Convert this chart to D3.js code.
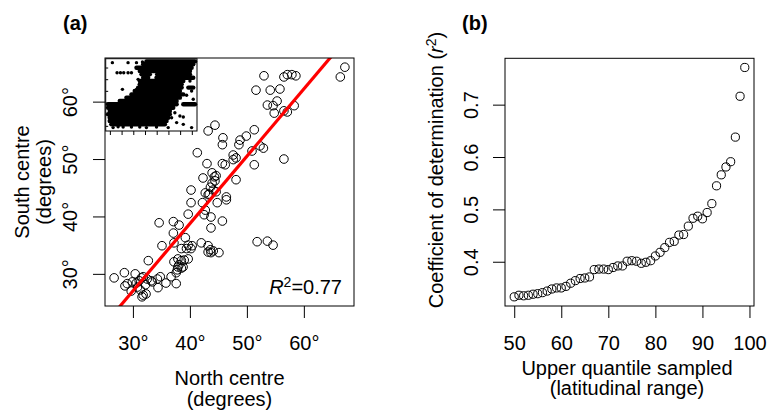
<!DOCTYPE html>
<html><head><meta charset="utf-8">
<script src="https://cdn.jsdelivr.net/npm/d3@7"></script>
<style>
body{margin:0;background:#fff}
svg{display:block}
text{font-family:"Liberation Sans",Arial,Helvetica,sans-serif;fill:#000}
</style>
</head><body>
<svg id="c" width="767" height="416"></svg>
<script>
// ---------- Panel (a): north vs south range centres ----------
const northCentre = [
 67.2,66.4,53.0,56.5,57.1,57.9,58.6,51.6,54.1,55.8,
 55.3,53.6,54.6,58.3,54.8,56.5,57.1,44.4,43.2,51.3,
 49.9,48.8,45.8,45.7,48.6,52.3,52.9,50.9,41.3,47.6,
 48.1,47.6,56.5,43.0,45.7,46.2,51.3,43.9,44.3,42.3,
 48.1,43.9,44.4,43.6,44.1,43.2,44.6,44.6,40.2,42.7,
 43.4,46.4,40.2,42.2,44.8,46.4,42.7,42.5,39.7,43.7,
 45.7,34.6,37.1,38.1,37.1,43.7,39.2,35.1,37.2,38.5,
 39.7,40.4,40.2,39.4,42.0,43.2,43.6,43.2,43.7,44.1,
 45.1,51.8,53.6,54.6,32.7,37.9,38.5,39.0,39.7,37.9,
 37.8,38.1,37.6,38.5,26.7,28.5,30.4,28.6,29.0,30.6,
 31.1,31.5,31.8,32.5,33.2,30.8,31.3,31.8,31.6,32.3,
 34.3,34.4,33.4,35.8,36.7,37.6,29.9,29.7,32.2,34.8,38.8,37.2];
const southCentre = [
 66.0,64.3,64.5,64.3,64.7,64.7,64.5,62.0,62.0,62.2,
 60.1,59.4,59.3,59.3,58.0,58.4,58.2,55.9,54.9,55.1,
 54.0,53.3,53.7,52.5,52.5,52.3,51.9,51.4,51.1,50.7,
 50.2,49.9,50.0,49.2,49.2,49.0,49.0,47.6,46.9,46.7,
 46.4,45.8,46.2,45.1,44.6,43.8,44.3,47.1,44.6,44.1,
 43.9,43.4,42.4,42.4,42.4,42.9,41.1,40.3,40.4,39.9,
 39.2,38.9,39.1,38.5,37.1,38.0,36.3,34.9,35.4,34.4,
 35.0,34.9,34.4,34.4,35.4,34.9,34.2,33.8,33.7,34.0,
 33.7,35.6,35.7,35.0,32.3,32.6,32.3,32.4,32.6,31.2,
 30.7,31.6,30.2,31.0,29.3,30.2,30.0,27.9,28.3,28.4,
 28.8,29.3,29.5,29.1,28.8,27.7,27.2,26.3,26.0,26.5,
 29.1,27.6,28.6,28.4,29.5,28.3,28.6,27.0,28.1,29.5,31.2,32.1];
const fitIntercept = -8.17;
const fitSlope = 1.173;
const rSquaredLabel = "=0.77";
const aXTicks = [30, 40, 50, 60];
const aYTicks = [30, 40, 50, 60];

// ---------- Inset of panel (a): raw data (dense rows + isolated dots) ----------
const insetRowY     = [59.7,57.2,54.3,51.4,48.6,48.6,45.7,45.7,42.9,40.0,37.2,37.2,34.3,31.4,28.6,25.7,22.9,22.9,20.0,17.2,14.3,11.4,8.6,5.7];
const insetRowStart = [34.8,32.0,26.3,29.1,30.6,44.0,32.0,43.4,29.1,29.1,27.7,70.6,24.8,22.0,17.7,12.0, 2.0,66.3, 2.0, 3.4, 2.0, 3.4,3.4,4.8];
const insetRowEnd   = [76.3,74.8,73.4,72.0,37.7,72.0,36.3,74.8,66.3,64.9,64.9,74.8,63.4,66.3,63.4,60.6,60.6,76.3,57.7,54.8,54.8,53.4,52.0,50.6];
const insetDotX = [5.7,19.1,26.3,31.4,9.7,12.6,15.4,19.1,22.0,14.3,26.3,27.7,72.0,73.4,69.1,74.8,59.1,56.3,63.4,66.3,60.6,66.3,73.4,53.4,34.8,29.1,6.3,14.9,10.6,22.0,43.4];
const insetDotY = [58.6,58.6,58.6,59.2,50.0,50.0,50.0,50.0,50.0,35.7,35.7,44.3,42.9,34.3,30.6,27.2,15.7,11.4,12.9,12.0,7.2,5.7,2.9,2.9,2.9,3.4,2.9,3.4,3.6,3.4,3.4];
const insetXTicks = [4,14,24,34,44,54,64,74];
const insetYTicks = [4,14,24,34,44,54];

// ---------- Panel (b): r^2 vs upper quantile sampled ----------
const quantileSampled = [50,51,52,53,54,55,56,57,58,59,60,61,62,63,64,65,66,67,68,69,70,71,72,73,74,75,76,77,78,79,80,81,82,83,84,85,86,87,88,89,90,91,92,93,94,95,96,97,98,99];
const rSquaredByQuantile = [
 0.333,0.336,0.335,0.336,0.338,0.339,0.341,0.344,0.348,0.350,
 0.350,0.353,0.359,0.364,0.368,0.369,0.371,0.385,0.386,0.386,
 0.385,0.389,0.392,0.392,0.401,0.402,0.401,0.397,0.399,0.402,
 0.411,0.418,0.427,0.437,0.439,0.451,0.452,0.468,0.483,0.487,
 0.482,0.494,0.511,0.545,0.566,0.581,0.591,0.638,0.716,0.771];
const bXTicks = [50, 60, 70, 80, 90, 100];
const bYTicks = [0.4, 0.5, 0.6, 0.7];

const svg = d3.select("#c");
const FS = 20;

// ===== Panel (a) =====
const A = {l:105, r:354, t:58, b:306};
const xa = d3.scaleLinear([25.1, 68.8], [A.l, A.r]);
const ya = d3.scaleLinear([24.4, 67.6], [A.b, A.t]);

svg.append("defs").append("clipPath").attr("id","clipA")
  .append("rect").attr("x",A.l).attr("y",A.t).attr("width",A.r-A.l).attr("height",A.b-A.t);

const gA = svg.append("g");
gA.selectAll("circle.pt").data(northCentre).join("circle")
  .attr("class","pt")
  .attr("cx", d => xa(d))
  .attr("cy", (d,i) => ya(southCentre[i]))
  .attr("r", 4.3).attr("fill","none").attr("stroke","#000").attr("stroke-width",1);

// fitted line
const xd = xa.domain();
gA.append("line").attr("clip-path","url(#clipA)")
  .attr("x1", xa(xd[0])).attr("y1", ya(fitIntercept + fitSlope*xd[0]))
  .attr("x2", xa(xd[1])).attr("y2", ya(fitIntercept + fitSlope*xd[1]))
  .attr("stroke","#ff0000").attr("stroke-width",3.2);

// axes
const axA = gA.append("g").attr("transform",`translate(0,${A.b})`)
  .call(d3.axisBottom(xa).tickValues(aXTicks).tickSize(12).tickSizeOuter(0).tickFormat(d => d + "°"));
axA.select(".domain").remove();
axA.selectAll("text").attr("y", 44).attr("dy", 0).style("font-size", FS+"px").attr("fill","#000");
axA.selectAll("line").attr("stroke","#000");

const ayA = gA.append("g").attr("transform",`translate(${A.l},0)`)
  .call(d3.axisLeft(ya).tickValues(aYTicks).tickSize(12).tickSizeOuter(0).tickFormat(d => d + "°"));
ayA.select(".domain").remove();
ayA.selectAll("text").attr("transform","rotate(-90)").attr("x",0).attr("y",-28.5).attr("dy",0)
  .attr("text-anchor","middle").style("font-size", FS+"px").attr("fill","#000");
ayA.selectAll("line").attr("stroke","#000");

// box
gA.append("rect").attr("x",A.l).attr("y",A.t).attr("width",A.r-A.l).attr("height",A.b-A.t)
  .attr("fill","none").attr("stroke","#000").attr("stroke-width",1);

// R^2 label
const rt = gA.append("text").attr("x", 342).attr("y", 294).attr("text-anchor","end").style("font-size", FS+"px");
rt.append("tspan").attr("font-style","italic").text("R");
rt.append("tspan").attr("dy",-7).style("font-size","14px").text("2");
rt.append("tspan").attr("dy",7).text(rSquaredLabel);

// titles
svg.append("text").attr("x",229.5).attr("y",385).attr("text-anchor","middle").style("font-size",FS+"px").text("North centre");
svg.append("text").attr("x",229.5).attr("y",406).attr("text-anchor","middle").style("font-size",FS+"px").text("(degrees)");
svg.append("text").attr("transform","translate(28.5,182) rotate(-90)").attr("text-anchor","middle").style("font-size",FS+"px").text("South centre");
svg.append("text").attr("transform","translate(50.5,182) rotate(-90)").attr("text-anchor","middle").style("font-size",FS+"px").text("(degrees)");
svg.append("text").attr("x",63).attr("y",29.5).style("font-size","20px").attr("font-weight","bold").text("(a)");

// ===== Inset =====
const I = {l:105.7, r:197, t:58.7, b:131};
const xi = d3.scaleLinear([0, 78], [I.l, I.r]);
const yi = d3.scaleLinear([0, 62], [I.b, I.t]);
const gI = svg.append("g");
gI.append("rect").attr("x",I.l).attr("y",I.t).attr("width",I.r-I.l).attr("height",I.b-I.t).attr("fill","#fff");
gI.selectAll("line.row").data(insetRowY).join("line").attr("class","row")
  .attr("x1",(d,i)=>xi(insetRowStart[i])).attr("x2",(d,i)=>xi(insetRowEnd[i]))
  .attr("y1",d=>yi(d)).attr("y2",d=>yi(d))
  .attr("stroke","#000").attr("stroke-width",4.4).attr("stroke-linecap","round");
gI.selectAll("circle.dot").data(insetDotX).join("circle").attr("class","dot")
  .attr("cx",d=>xi(d)).attr("cy",(d,i)=>yi(insetDotY[i])).attr("r",1.7).attr("fill","#000");
gI.selectAll("line.xt").data(insetXTicks).join("line").attr("class","xt")
  .attr("x1",d=>xi(d)).attr("x2",d=>xi(d)).attr("y1",I.b).attr("y2",I.b+4).attr("stroke","#000");
gI.selectAll("line.yt").data(insetYTicks).join("line").attr("class","yt")
  .attr("y1",d=>yi(d)).attr("y2",d=>yi(d)).attr("x1",I.l).attr("x2",I.l+2.5).attr("stroke","#000");
gI.append("rect").attr("x",I.l).attr("y",I.t).attr("width",I.r-I.l).attr("height",I.b-I.t)
  .attr("fill","none").attr("stroke","#000").attr("stroke-width",1);

// ===== Panel (b) =====
const B = {l:505, r:754, t:58.3, b:306};
const xb = d3.scaleLinear([48.04, 100.96], [B.l, B.r]);
const yb = d3.scaleLinear([0.3155, 0.7885], [B.b, B.t]);
const gB = svg.append("g");
gB.selectAll("circle").data(quantileSampled).join("circle")
  .attr("cx", d => xb(d)).attr("cy", (d,i) => yb(rSquaredByQuantile[i]))
  .attr("r", 4.1).attr("fill","none").attr("stroke","#000").attr("stroke-width",1);

const axB = gB.append("g").attr("transform",`translate(0,${B.b})`)
  .call(d3.axisBottom(xb).tickValues(bXTicks).tickSize(12).tickSizeOuter(0).tickFormat(d3.format("d")));
axB.select(".domain").remove();
axB.selectAll("text").attr("y",44).attr("dy",0).style("font-size",FS+"px").attr("fill","#000");
axB.selectAll("line").attr("stroke","#000");

const ayB = gB.append("g").attr("transform",`translate(${B.l},0)`)
  .call(d3.axisLeft(yb).tickValues(bYTicks).tickSize(12).tickSizeOuter(0).tickFormat(d3.format(".1f")));
ayB.select(".domain").remove();
ayB.selectAll("text").attr("transform","rotate(-90)").attr("x",0).attr("y",-27.5).attr("dy",0)
  .attr("text-anchor","middle").style("font-size",FS+"px").attr("fill","#000");
ayB.selectAll("line").attr("stroke","#000");

gB.append("rect").attr("x",B.l).attr("y",B.t).attr("width",B.r-B.l).attr("height",B.b-B.t)
  .attr("fill","none").attr("stroke","#000").attr("stroke-width",1);

svg.append("text").attr("x",627).attr("y",375).attr("text-anchor","middle").style("font-size",FS+"px").text("Upper quantile sampled");
svg.append("text").attr("x",627).attr("y",395).attr("text-anchor","middle").style("font-size",FS+"px").text("(latitudinal range)");
const yt = svg.append("text").attr("transform","translate(443,170) rotate(-90)").attr("text-anchor","middle").style("font-size",FS+"px");
yt.append("tspan").text("Coefficient of determination (");
yt.append("tspan").attr("font-style","italic").text("r");
yt.append("tspan").attr("dy",-7).style("font-size","14px").text("2");
yt.append("tspan").attr("dy",7).text(")");
svg.append("text").attr("x",462).attr("y",29.5).style("font-size","20px").attr("font-weight","bold").text("(b)");
</script>
</body></html>
